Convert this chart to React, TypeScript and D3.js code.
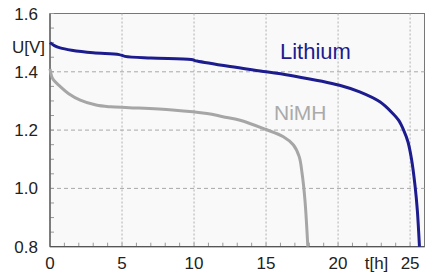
import React from 'react';
import * as d3 from 'd3';

// discharge curves
const liTime = [0, 0.3, 0.7, 1.5, 3, 4.8, 5.2, 7, 9.8, 10.2, 12.5, 15, 17, 20.1, 21.5, 22.9, 23.8, 24.2, 24.55, 24.85, 25.1, 25.35, 25.5, 25.65];
const liVolt = [1.5, 1.49, 1.482, 1.474, 1.465, 1.459, 1.453, 1.447, 1.442, 1.437, 1.418, 1.4, 1.385, 1.354, 1.331, 1.297, 1.257, 1.234, 1.2, 1.16, 1.1, 1.006, 0.926, 0.8];

const nimhTime = [0, 0.2, 0.7, 1.3, 2.1, 3.2, 4.2, 5.5, 8.5, 10.9, 12, 13.2, 15, 16.2, 16.9, 17.3, 17.5, 17.7, 17.9];
const nimhVolt = [1.41, 1.375, 1.35, 1.325, 1.303, 1.286, 1.28, 1.277, 1.269, 1.257, 1.246, 1.234, 1.202, 1.177, 1.149, 1.109, 1.052, 0.96, 0.8];

const xTicks = [0, 5, 10, 15, 20, 25];
const yTicks = [0.8, 1.0, 1.2, 1.4, 1.6];

export default function App() {
  const W = 431, H = 272;
  const left = 50, right = 424.5, top = 13.5, bottom = 246.7;

  const x = d3.scaleLinear().domain([0, 26]).range([left, right]);
  const y = d3.scaleLinear().domain([0.8, 1.6]).range([bottom, top]);

  const line = d3.line<[number, number]>()
    .x(d => x(d[0]))
    .y(d => y(d[1]))
    .curve(d3.curveCatmullRom.alpha(0.5));

  const liPath = line(liTime.map((t, i) => [t, liVolt[i]] as [number, number])) || '';
  const nimhPath = line(nimhTime.map((t, i) => [t, nimhVolt[i]] as [number, number])) || '';

  const minorX = d3.range(1, 26);
  const minorY = d3.range(0.85, 1.6, 0.05);
  const font = '"Liberation Sans", Arial, sans-serif';

  return (
    <svg width={W} height={H} style={{ position: 'absolute', left: 0, top: 0, background: '#fff' }}>
      <rect x={left} y={top} width={right - left} height={bottom - top} fill="#f9f9f9" stroke="#777" strokeWidth={1} />

      {/* grid */}
      {yTicks.filter(v => v > 0.8 && v < 1.6).map(v => (
        <line key={'gy' + v} x1={left} x2={right} y1={y(v)} y2={y(v)} stroke="#a8a8a8" strokeDasharray="4,3" />
      ))}
      {xTicks.filter(v => v > 0).map(v => (
        <line key={'gx' + v} x1={x(v)} x2={x(v)} y1={top} y2={bottom} stroke="#b0b0b0" strokeDasharray="2,2" />
      ))}

      {/* minor ticks inside */}
      {minorX.map(v => (
        <line key={'mx' + v} x1={x(v)} x2={x(v)} y1={bottom} y2={bottom - 4} stroke="#999" />
      ))}
      {minorY.map(v => (
        <line key={'my' + v} x1={left} x2={left + 4} y1={y(v)} y2={y(v)} stroke="#999" />
      ))}

      {/* axes */}
      <line x1={left} x2={left} y1={top} y2={bottom} stroke="#555" strokeWidth={1.2} />
      <line x1={left} x2={right} y1={bottom} y2={bottom} stroke="#555" strokeWidth={1.2} />

      <path d={nimhPath} fill="none" stroke="#a6a6a6" strokeWidth={3} />
      <path d={liPath} fill="none" stroke="#1c1c8f" strokeWidth={3} />

      {yTicks.map(v => (
        <text key={'ly' + v} x={38} y={y(v) + 6} textAnchor="end" fontFamily={font} fontSize={17} fill="#222">
          {v.toFixed(1)}
        </text>
      ))}
      <text x={45} y={52.5} textAnchor="end" fontFamily={font} fontSize={17} fill="#222">U[V]</text>

      {xTicks.map(v => (
        <text key={'lx' + v} x={x(v)} y={269} textAnchor="middle" fontFamily={font} fontSize={17} fill="#222">
          {v}
        </text>
      ))}
      <text x={376.5} y={269} textAnchor="middle" fontFamily={font} fontSize={17} fill="#222">t[h]</text>

      <text x={280} y={59} fontFamily={font} fontSize={22} fill="#1c1c8f">Lithium</text>
      <text x={274} y={120} fontFamily={font} fontSize={21} fill="#aaaaaa">NiMH</text>
    </svg>
  );
}
